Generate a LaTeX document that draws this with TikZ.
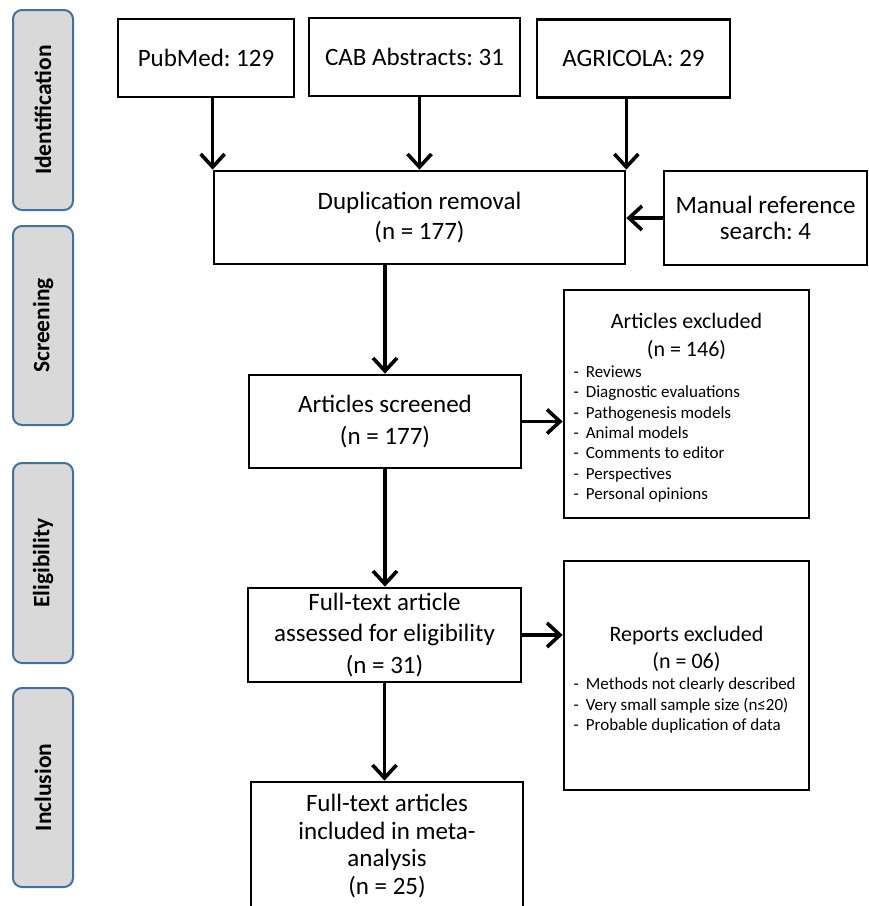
\documentclass[tikz,border=0pt]{standalone}
\usepackage{fontspec}
\setmainfont{Carlito}
\usetikzlibrary{arrows.meta,calc}
\definecolor{phaseblue}{HTML}{41719C}
\definecolor{phasegray}{HTML}{D9D9D9}
\newcommand\fsz[2]{\fontsize{#1}{#2}\selectfont}
\frenchspacing
\begin{document}
\begin{tikzpicture}[x=1pt,y=-1pt,
  box/.style={draw=black, line width=2.7pt, inner sep=0pt, align=center},
  phase/.style={draw=phaseblue, fill=phasegray, line width=2pt, rounded corners=9pt,
    inner sep=0pt, minimum height=60pt, rotate=90, font=\bfseries\fsz{23.5}{28}},
  arr/.style={line width=3.6pt, -{Straight Barb[length=13pt,width=24pt]}},
  ttl/.style={inner sep=0pt, align=center, font=\fsz{22}{27.5}},
  lst/.style={inner sep=0pt, align=left, anchor=west, font=\fsz{17}{20.4}}]
\clip (0,0) rectangle (869,906);
% phase labels
\node[phase, minimum width=200pt] (pid) at (43,110) {Identification};
\node[phase, minimum width=199pt] (psc) at (43,325.5) {Screening};
\node[phase, minimum width=200pt] (pel) at (43,563) {Eligibility};
\node[phase, minimum width=199pt] (pin) at (43,787.5) {Inclusion};
% sources
\node[box, minimum width=176pt, minimum height=78pt, font=\fsz{25}{30}] (pub) at (206,58) {PubMed: 129};
\node[box, minimum width=211pt, minimum height=78pt, font=\fsz{25}{30}] (cab) at (414.5,57) {CAB Abstracts: 31};
\node[box, minimum width=193pt, minimum height=78pt, font=\fsz{25}{30}] (agr) at (633.5,58.5) {AGRICOLA: 29};
% main flow
\node[box, minimum width=411pt, minimum height=93pt, font=\fsz{25}{30}] (dup) at (419.5,217.5) {Duplication removal\\(n = 177)};
\node[box, minimum width=203pt, minimum height=94pt, font=\fsz{25}{26.5}] (man) at (765.5,218) {Manual reference\\search: 4};
\node[box, minimum width=272pt, minimum height=93pt, font=\fsz{25}{32}] (scr) at (385,421.5) {Articles screened\\(n = 177)};
\node[box, minimum width=273pt, minimum height=94pt, font=\fsz{25}{31.5}] (ft) at (384.5,635) {Full-text article\\assessed for eligibility\\(n = 31)};
\node[box, minimum width=272pt, minimum height=128pt, font=\fsz{25}{27.8}] (fin) at (387,846) {Full-text articles\\included in meta-\\analysis\\(n = 25)};
% exclusion boxes
\node[box, minimum width=245pt, minimum height=228pt] (exa) at (686.5,404) {};
\node[ttl] (exat) at (686.5,336.5) {Articles excluded\\(n = 146)};
\node[lst] (exal) at (573.5,434) {-\hspace{7pt}Reviews\\-\hspace{7pt}Diagnostic evaluations\\-\hspace{7pt}Pathogenesis models\\-\hspace{7pt}Animal models\\-\hspace{7pt}Comments to editor\\-\hspace{7pt}Perspectives\\-\hspace{7pt}Personal opinions};
\node[box, minimum width=245pt, minimum height=229pt] (exb) at (686.5,675.5) {};
\node[ttl] (exbt) at (686.5,649) {Reports excluded\\(n = 06)};
\node[lst] (exbl) at (573.5,705.5) {-\hspace{7pt}Methods not clearly described\\-\hspace{7pt}Very small sample size (n≤20)\\-\hspace{7pt}Probable duplication of data};
% connectors
\draw[arr] (pub.south -| dup.north west) -- (dup.north west);
\draw[arr] (cab.south -| dup.north) -- (dup.north);
\draw[arr] (agr.south -| dup.north east) -- (dup.north east);
\draw[arr] (man.west) -- (man.west -| dup.east);
\draw[arr] (dup.south -| scr.north) -- (scr.north);
\draw[arr] (scr.east) -- (scr.east -| exa.west);
\draw[arr] (scr.south) -- (scr.south |- ft.north);
\draw[arr] (ft.east) -- (ft.east -| exb.west);
\draw[arr] (ft.south) -- (ft.south |- fin.north);
\end{tikzpicture}
\end{document}
